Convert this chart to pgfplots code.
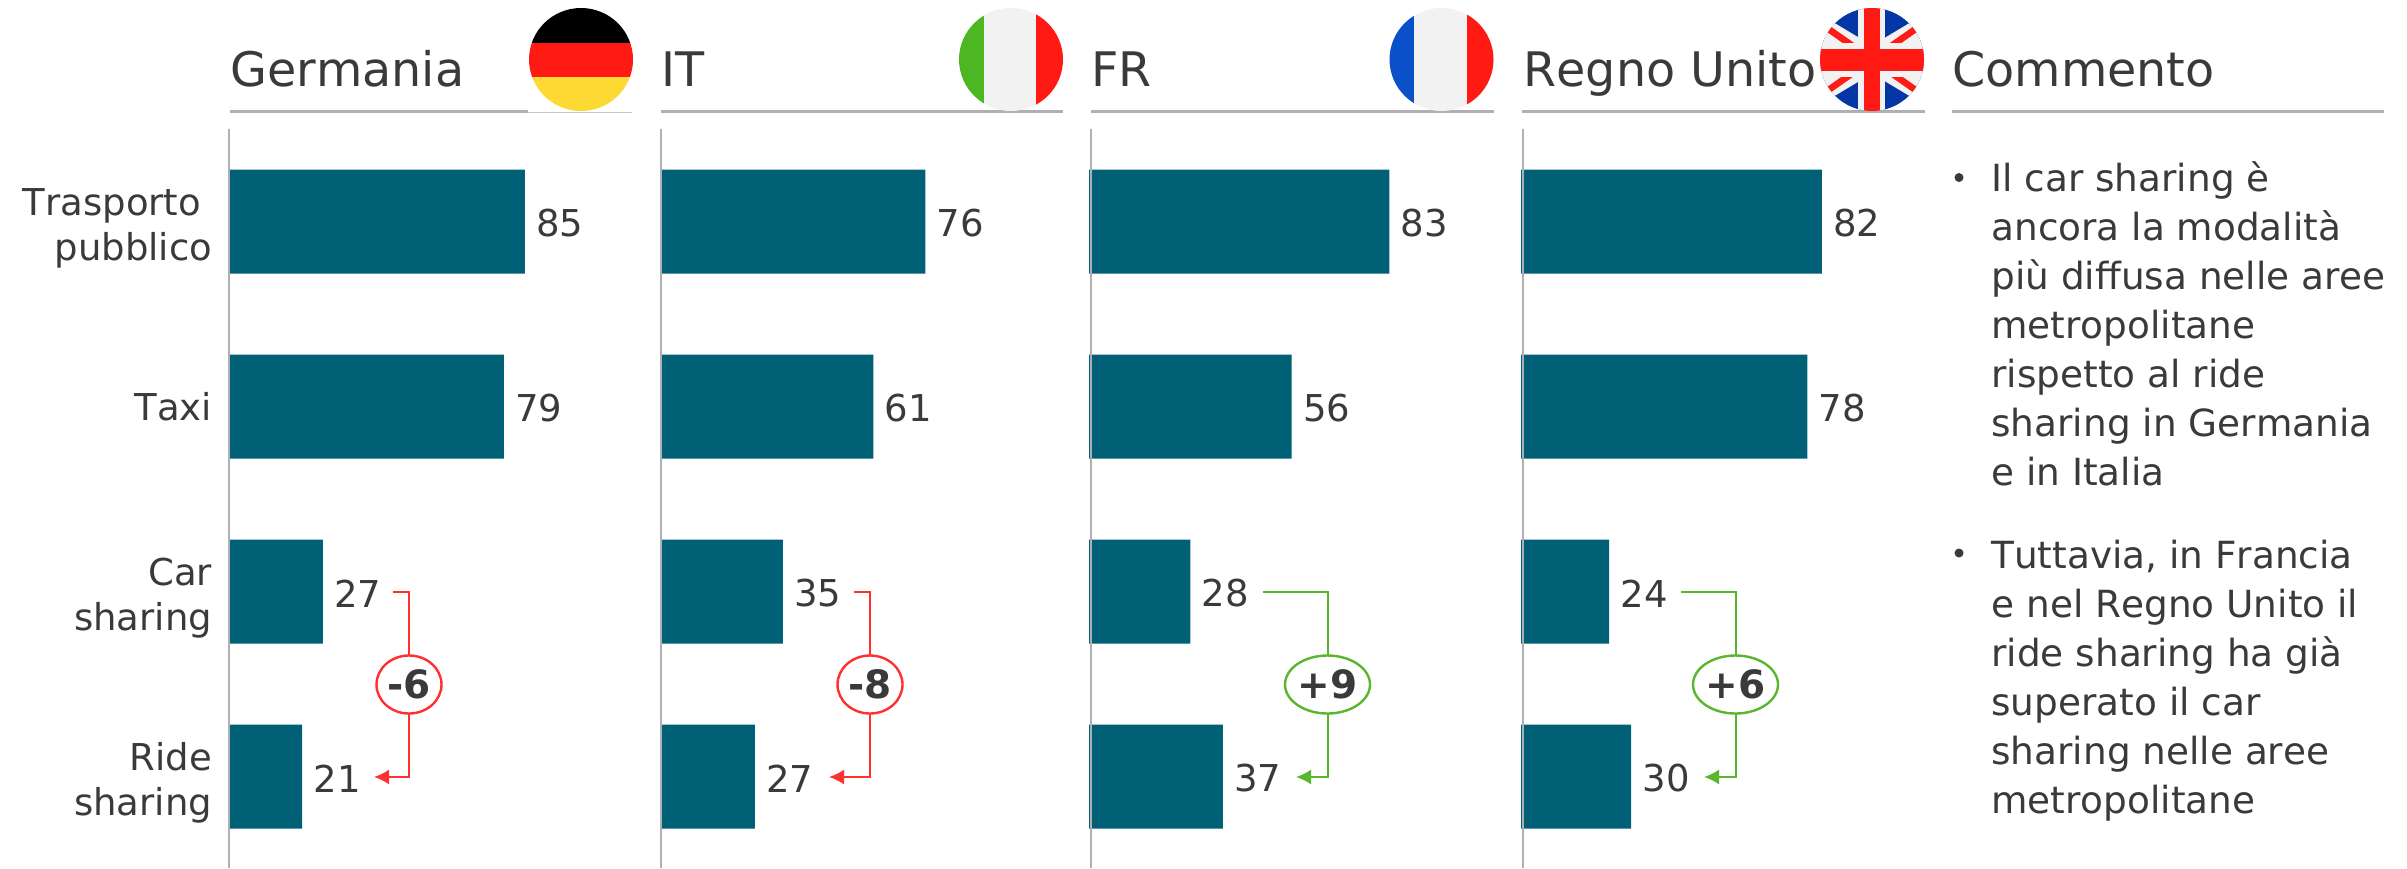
\documentclass[border=0pt]{standalone}
\usepackage{fontspec}
\setmainfont[Kerning=Off]{DejaVu Sans}
\usepackage{pgfplots}
\pgfplotsset{compat=1.18}
\usetikzlibrary{arrows.meta, shapes.geometric}
\definecolor{barteal}{HTML}{006076}
\definecolor{txt}{HTML}{3A3A3A}
\definecolor{rulegray}{HTML}{B0B0B4}
\definecolor{downred}{HTML}{FF3030}
\definecolor{upgreen}{HTML}{5AB52F}
\definecolor{flagred}{HTML}{FF1A14}
\definecolor{flagwhite}{HTML}{F2F2F2}
\definecolor{flagyellow}{HTML}{FDDA33}
\definecolor{flaggreen}{HTML}{4DB723}
\definecolor{flagblue}{HTML}{0A50C8}
\definecolor{ukblue}{HTML}{0437A5}

\pgfplotsset{
  panel/.style={
    xbar, scale only axis, anchor=south west,
    height=370pt, xmin=0, xmax=100,
    ymin=-0.5, ymax=3.5, y dir=reverse,
    bar width=52pt,
    axis line style={draw=none},
    major tick style={draw=none},
    xtick=\empty, ytick={0,1,2,3}, yticklabels={},
    clip=false,
    /pgf/number format/assume math mode=true,
    nodes near coords,
    every node near coord/.append style={anchor=west, inner sep=0pt, xshift=5.5pt, yshift=-1pt,
      text=txt, font=\fontsize{18.5}{22}\selectfont},
  },
}
\newcommand{\headfont}{\fontsize{23.8}{28}\selectfont}
\newcommand{\bodyfont}{\fontsize{18.7}{24.5}\selectfont}
\newcommand{\tl}{\rule{0pt}{20pt}}

\begin{document}
\begin{tikzpicture}[x=0.5pt,y=-0.5pt]
\useasboundingbox (0,0) rectangle (2407,868);

% Germania
\begin{axis}[panel, at={(114.5pt,-434.5pt)}, width=174pt,
    yticklabels={{\tl Trasporto\hspace*{5.5pt}\\pubblico},Taxi,{\tl Car\\sharing},{\tl Ride\\sharing}},
    yticklabel style={align=right, text=txt, inner sep=0pt, xshift=-4pt,
      font=\fontsize{18.5}{22.5}\selectfont}]
\addplot[fill=barteal, draw=none] coordinates {(85,0) (79,1) (27,2) (21,3)};
\end{axis}
% IT
\begin{axis}[panel, at={(330.5pt,-434.5pt)}, width=174pt]
\addplot[fill=barteal, draw=none] coordinates {(76,0) (61,1) (35,2) (27,3)};
\end{axis}
% FR
\begin{axis}[panel, at={(544.5pt,-434.5pt)}, width=181pt]
\addplot[fill=barteal, draw=none] coordinates {(83,0) (56,1) (28,2) (37,3)};
\end{axis}
% Regno Unito
\begin{axis}[panel, at={(760.5pt,-434.5pt)}, width=183.5pt]
\addplot[fill=barteal, draw=none] coordinates {(82,0) (78,1) (24,2) (30,3)};
\end{axis}

% panel spines and header rules
\foreach \xa in {229,661,1091,1523}{
  \draw[rulegray, line width=1pt] (\xa,129) -- (\xa,868);
}
\foreach \xa/\xb in {230/528,661/1063,1091/1494,1522/1925,1952/2384}{
  \draw[rulegray, line width=1.1pt] (\xa,111.5) -- (\xb,111.5);
}
\draw[rulegray!70, line width=0.4pt] (528,112) -- (632,112);

% column headers
\foreach \xa/\name in {230/Germania,661/IT,1091/FR,1523/Regno Unito,1952/Commento}{
  \node[anchor=base west, inner sep=0pt, text=txt, font=\headfont] at (\xa,86) {\name};
}

% flags
\begin{scope}
  \clip (581,59.5) ellipse [x radius=52, y radius=51.5];
  \fill[black] (520,0) rectangle (640,42.7);
  \fill[flagred] (520,42.7) rectangle (640,77);
  \fill[flagyellow] (520,77) rectangle (640,120);
\end{scope}
\begin{scope}
  \clip (1011,59.5) ellipse [x radius=52, y radius=51.5];
  \fill[flaggreen] (950,0) rectangle (984,120);
  \fill[flagwhite] (984,0) rectangle (1036,120);
  \fill[flagred] (1036,0) rectangle (1070,120);
\end{scope}
\begin{scope}
  \clip (1441.5,59.5) ellipse [x radius=52, y radius=51.5];
  \fill[flagblue] (1380,0) rectangle (1414,120);
  \fill[flagwhite] (1414,0) rectangle (1467,120);
  \fill[flagred] (1467,0) rectangle (1500,120);
\end{scope}
\begin{scope}
  \clip (1872,59.5) ellipse [x radius=52, y radius=51.5];
  \fill[ukblue] (1815,0) rectangle (1930,120);
  \draw[flagwhite, line width=12pt] (1805,19.3) -- (1939,99.7);
  \draw[flagwhite, line width=12pt] (1805,99.7) -- (1939,19.3);
  \draw[flagred, line width=3.3pt] (1805,12.6) -- (1939,106.4);
  \draw[flagred, line width=3.3pt] (1805,106.4) -- (1939,12.6);
  \fill[flagwhite] (1858,0) rectangle (1885,120);
  \fill[flagwhite] (1815,43) rectangle (1930,77);
  \fill[flagred] (1864,0) rectangle (1880,120);
  \fill[flagred] (1815,49) rectangle (1930,71);
\end{scope}

% differences
\foreach \xs/\xm/\xe/\rx/\col/\lab in {
   393/409/374/32.5/downred/-6,
   854/870/829/32.5/downred/-8,
   1263/1327.5/1296/42.5/upgreen/+9,
   1681/1735.5/1704/42.5/upgreen/+6}{
  \draw[\col, line width=1pt, -{Latex[length=7.5pt,width=7.5pt]}]
    (\xs,591.5) -- (\xm,591.5) -- (\xm,777) -- (\xe,777);
  \node[draw=\col, fill=white, line width=1.2pt, ellipse, inner sep=0pt,
        minimum width=\rx*1pt, minimum height=29pt, text=txt,
        font=\fontsize{19.5}{22}\selectfont\bfseries] at (\xm,684.5) {\lab};
}

% commento
\node[anchor=north west, align=left, inner sep=0pt, text=txt, font=\bodyfont]
  at (1991,161) {Il car sharing è\\ancora la modalità\\più diffusa nelle aree\\metropolitane\\rispetto al ride\\sharing in Germania\\e in Italia};
\node[anchor=north west, align=left, inner sep=0pt, text=txt, font=\bodyfont]
  at (1991,539.5) {Tuttavia, in Francia\\e nel Regno Unito il\\ride sharing ha già\\superato il car\\sharing nelle aree\\metropolitane};
\fill[txt] (1959,177.5) circle [radius=4.5];
\fill[txt] (1959,553) circle [radius=4.5];
\end{tikzpicture}
\end{document}
